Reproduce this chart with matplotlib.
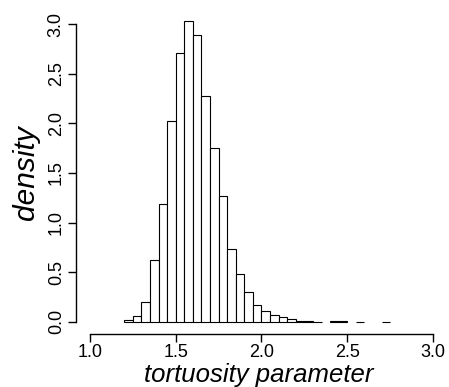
import matplotlib
matplotlib.use("Agg")
import matplotlib.pyplot as plt
import numpy as np

# Histogram bins (left edges) and densities
bin_width = 0.05
bin_lefts = [1.20, 1.25, 1.30, 1.35, 1.40, 1.45, 1.50, 1.55, 1.60, 1.65,
             1.70, 1.75, 1.80, 1.85, 1.90, 1.95, 2.00, 2.05, 2.10, 2.15,
             2.20, 2.25, 2.30, 2.40, 2.45, 2.55, 2.70]
densities = [0.02, 0.06, 0.20, 0.62, 1.19, 2.02, 2.71, 3.03, 2.89, 2.28,
             1.75, 1.27, 0.73, 0.48, 0.30, 0.165, 0.105, 0.067, 0.05, 0.025,
             0.012, 0.012, 0.0, 0.004, 0.004, 0.0, 0.0]

x_ticks = [1.0, 1.5, 2.0, 2.5, 3.0]
x_tick_labels = ["1.0", "1.5", "2.0", "2.5", "3.0"]
y_ticks = [0.0, 0.5, 1.0, 1.5, 2.0, 2.5, 3.0]
y_tick_labels = ["0.0", "0.5", "1.0", "1.5", "2.0", "2.5", "3.0"]

plt.rcParams['font.family'] = ['Liberation Sans', 'DejaVu Sans']

W, H = 449, 387
fig = plt.figure(figsize=(W / 100, H / 100), dpi=100)
# axes placed in pixel coordinates (R-style 4% expansion of xlim/ylim)
left_px, right_px = 76.3, 446.7
top_px, bottom_px = 12.4, 333.6
ax = fig.add_axes([left_px / W, (H - bottom_px) / H,
                   (right_px - left_px) / W, (bottom_px - top_px) / H])

ax.bar(bin_lefts, densities, width=bin_width, align='edge',
       facecolor='white', edgecolor='black', linewidth=0.8)

ax.set_xlim(0.92, 3.08)
ax.set_ylim(-0.12, 3.12)

for s in ['top', 'right']:
    ax.spines[s].set_visible(False)
ax.spines['left'].set_bounds(0, 3)
ax.spines['bottom'].set_bounds(1, 3)
ax.spines['left'].set_linewidth(1.0)
ax.spines['bottom'].set_linewidth(1.0)

ax.set_xticks(x_ticks)
ax.set_xticklabels(x_tick_labels)
ax.set_yticks(y_ticks)
ax.set_yticklabels(y_tick_labels, rotation=90, va='center')
ax.tick_params(axis='both', direction='out', length=5.8, width=1.0,
               labelsize=13, color='black')
ax.tick_params(axis='x', pad=1.5)
ax.tick_params(axis='y', pad=2.5)

fig.text(259 / W, 5 / H, "tortuosity parameter", ha='center', va='baseline',
         fontsize=18.5, style='italic')
fig.text(26 / W, (H - 172.5) / H, "density", ha='center', va='center',
         rotation=90, fontsize=21.5, style='italic')

fig.savefig("out.png", dpi=100)
